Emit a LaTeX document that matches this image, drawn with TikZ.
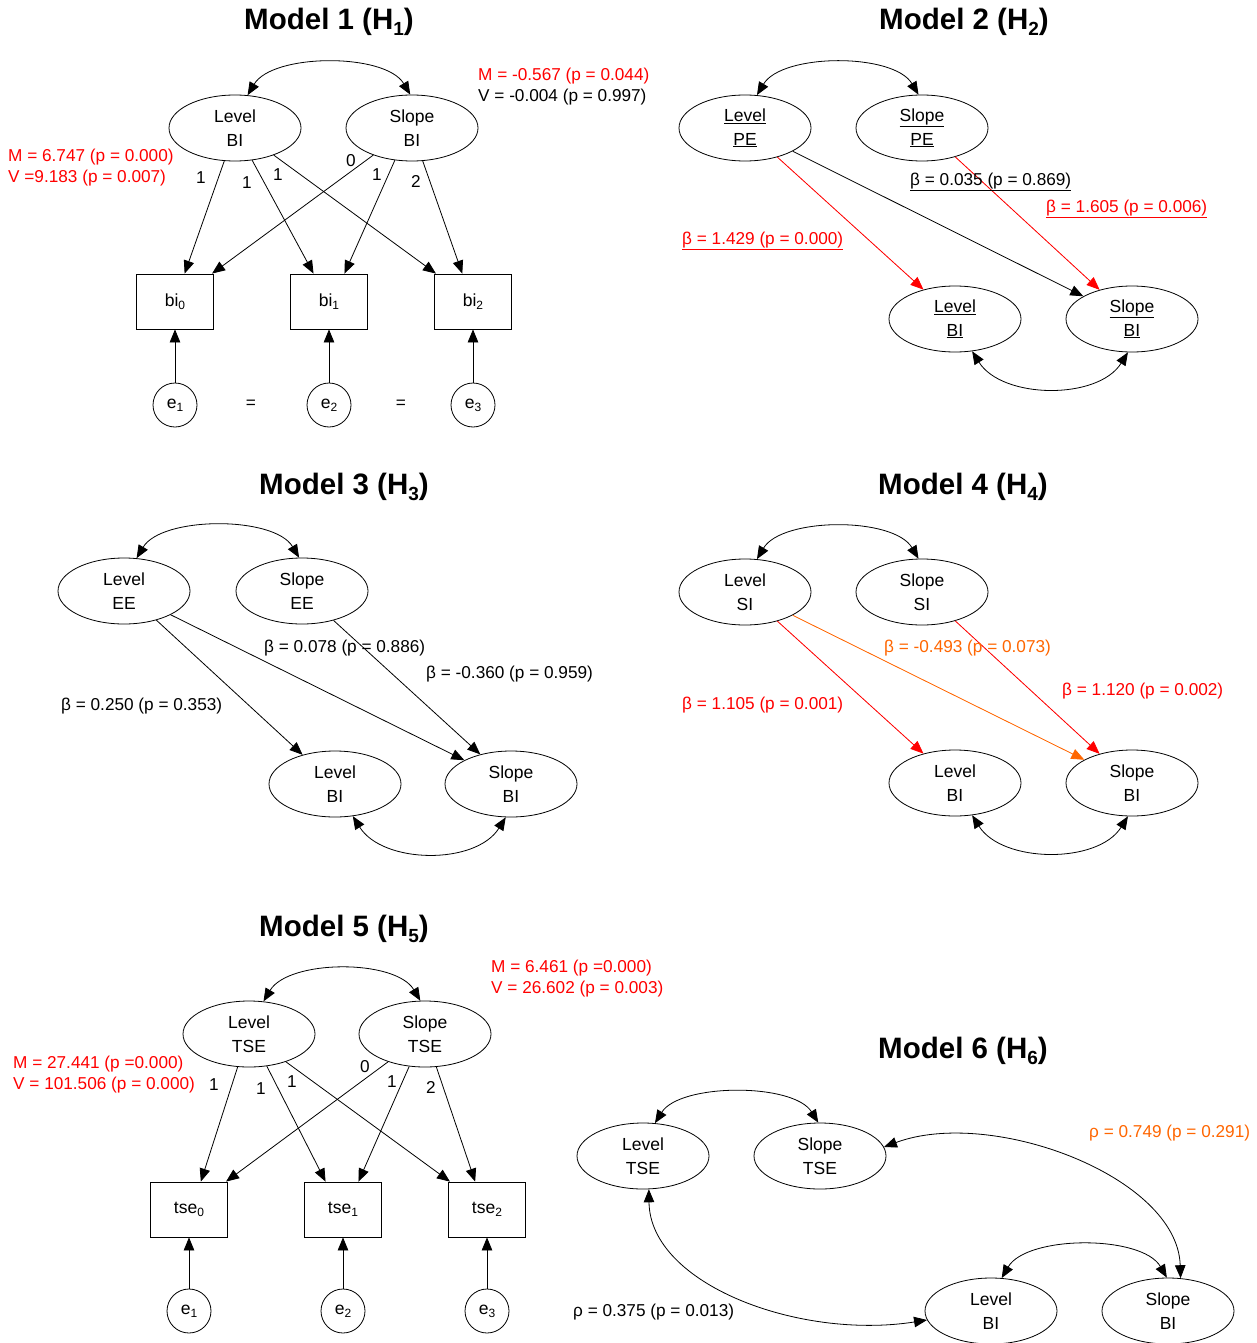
\documentclass[tikz,border=0pt]{standalone}
\usepackage{fontspec}
\setmainfont{Liberation Sans}
\usetikzlibrary{arrows.meta,shapes.geometric}
\definecolor{mred}{RGB}{255,0,0}
\definecolor{morange}{RGB}{255,102,0}
\newcommand\sbx[1]{\raisebox{-0.35ex}{\fontsize{12}{12}\selectfont #1}}
\newcommand\tsbx[1]{\raisebox{-0.35ex}{\fontsize{19}{19}\selectfont #1}}
\begin{document}
\begin{tikzpicture}[x=1pt,y=-1pt,
 lat/.style={ellipse,draw,line width=0.8pt,minimum width=132pt,minimum height=66pt,inner sep=0pt,align=center,font=\fontsize{17.5}{23.5}\selectfont},
 obs/.style={rectangle,draw,line width=0.8pt,minimum width=77pt,minimum height=55pt,inner sep=0pt,font=\fontsize{17.5}{20}\selectfont},
 err/.style={circle,draw,line width=0.8pt,minimum size=44pt,inner sep=0pt,font=\fontsize{17.5}{20}\selectfont},
 lbl/.style={inner sep=0pt,font=\fontsize{17.2}{20}\selectfont},
 ttl/.style={inner sep=0pt,font=\fontsize{29.5}{33}\selectfont\bfseries},
 arr/.style={-{Triangle[length=13pt,width=10.5pt]},line width=0.8pt},
 dbl/.style={{Triangle[length=13pt,width=10.5pt]}-{Triangle[length=13pt,width=10.5pt]},line width=0.8pt},
]
\useasboundingbox (0,0) rectangle (1256,1343);
\fill[white] (0,0) rectangle (1256,1343);

% ---------------- Model 1 ----------------
\node[ttl] (t1) at (329,22) {Model 1 (H\tsbx{1})};
\node[lat] (m1L) at (235,128) {Level\\BI};
\node[lat] (m1S) at (412,128) {Slope\\BI};
\node[obs] (m1b0) at (175,301.5) {bi\sbx{0}};
\node[obs] (m1b1) at (329,301.5) {bi\sbx{1}};
\node[obs] (m1b2) at (473,301.5) {bi\sbx{2}};
\node[err] (m1e1) at (175,405) {e\sbx{1}};
\node[err] (m1e2) at (329,405) {e\sbx{2}};
\node[err] (m1e3) at (473,405) {e\sbx{3}};
\node[lbl] (m1q1) at (251,404) {=};
\node[lbl] (m1q2) at (401,404) {=};
\draw[dbl] (m1L.69) .. controls +(25,-42) and +(-25,-42) .. (m1S.93);
\draw[arr] (m1L.252) -- (m1b0.71);
\draw[arr] (m1L.298) -- (m1b1.119);
\draw[arr] (m1L.325) -- (m1b2.143);
\draw[arr] (m1S.215) -- (m1b0.37);
\draw[arr] (m1S.242) -- (m1b1.61);
\draw[arr] (m1S.288) -- (m1b2.111);
\draw[arr] (m1e1) -- (m1b0);
\draw[arr] (m1e2) -- (m1b1);
\draw[arr] (m1e3) -- (m1b2);
\node[lbl] (m1n1) at (201,178) {1};
\node[lbl] (m1n2) at (247,183) {1};
\node[lbl] (m1n3) at (278,175) {1};
\node[lbl] (m1n4) at (351,161) {0};
\node[lbl] (m1n5) at (377,175) {1};
\node[lbl] (m1n6) at (416,181) {2};
\node[lbl,anchor=west,text=mred] (m1m) at (8,157) {M = 6.747 (p = 0.000)};
\node[lbl,anchor=west,text=mred] (m1v) at (8,178) {V =9.183 (p = 0.007)};
\node[lbl,anchor=west,text=mred] (m1m2) at (478,76) {M = -0.567 (p = 0.044)};
\node[lbl,anchor=west] (m1v2) at (478,97) {V = -0.004 (p = 0.997)};

% ---------------- Model 2 ----------------
\node[ttl] (t2) at (964,22) {Model 2 (H\tsbx{2})};
\node[lat] (m2LP) at (745,128) {\underline{Level}\\\underline{PE}};
\node[lat] (m2SP) at (922,128) {\underline{Slope}\\\underline{PE}};
\node[lat] (m2LB) at (955,319) {\underline{Level}\\\underline{BI}};
\node[lat] (m2SB) at (1132,319) {\underline{Slope}\\\underline{BI}};
\draw[dbl] (m2LP.70) .. controls +(25,-42) and +(-25,-42) .. (m2SP.96);
\draw[dbl] (m2LB.298) .. controls +(30,48) and +(-30,48) .. (m2SB.263);
\draw[arr,draw=mred,fill=mred] (m2LP.318) -- (m2LB.137);
\draw[arr] (m2LP.334) -- (m2SB.155);
\draw[arr,draw=mred,fill=mred] (m2SP.319) -- (m2SB.138);
\node[lbl,anchor=west] (m2a) at (910,182) {\underline{β = 0.035 (p = 0.869)}};
\node[lbl,anchor=west,text=mred] (m2b) at (1046,209) {\underline{β = 1.605 (p = 0.006)}};
\node[lbl,anchor=west,text=mred] (m2c) at (682,241) {\underline{β = 1.429 (p = 0.000)}};

% ---------------- Model 3 ----------------
\node[ttl] (t3) at (344,487) {Model 3 (H\tsbx{3})};
\node[lat] (m3LE) at (124,591) {Level\\EE};
\node[lat] (m3SE) at (302,591) {Slope\\EE};
\node[lat] (m3LB) at (335,784) {Level\\BI};
\node[lat] (m3SB) at (511,784) {Slope\\BI};
\draw[dbl] (m3LE.69) .. controls +(25,-42) and +(-25,-42) .. (m3SE.95);
\draw[dbl] (m3LB.299) .. controls +(30,48) and +(-30,48) .. (m3SB.261);
\draw[arr] (m3LE.318) -- (m3LB.138);
\draw[arr] (m3LE.333) -- (m3SB.153);
\draw[arr] (m3SE.317) -- (m3SB.136);
\node[lbl,anchor=west] (m3a) at (264,648) {β = 0.078 (p = 0.886)};
\node[lbl,anchor=west] (m3b) at (426,674) {β = -0.360 (p = 0.959)};
\node[lbl,anchor=west] (m3c) at (61,706) {β = 0.250 (p = 0.353)};

% ---------------- Model 4 ----------------
\node[ttl] (t4) at (963,487) {Model 4 (H\tsbx{4})};
\node[lat] (m4LS) at (745,592) {Level\\SI};
\node[lat] (m4SS) at (922,592) {Slope\\SI};
\node[lat] (m4LB) at (955,783) {Level\\BI};
\node[lat] (m4SB) at (1132,783) {Slope\\BI};
\draw[dbl] (m4LS.70) .. controls +(25,-42) and +(-25,-42) .. (m4SS.96);
\draw[dbl] (m4LB.298) .. controls +(30,48) and +(-30,48) .. (m4SB.263);
\draw[arr,draw=mred,fill=mred] (m4LS.318) -- (m4LB.137);
\draw[arr,draw=morange,fill=morange] (m4LS.334) -- (m4SB.154);
\draw[arr,draw=mred,fill=mred] (m4SS.319) -- (m4SB.138);
\node[lbl,anchor=west,text=morange] (m4a) at (884,648) {β = -0.493 (p = 0.073)};
\node[lbl,anchor=west,text=mred] (m4b) at (1062,691) {β = 1.120 (p = 0.002)};
\node[lbl,anchor=west,text=mred] (m4c) at (682,705) {β = 1.105 (p = 0.001)};

% ---------------- Model 5 ----------------
\node[ttl] (t5) at (344,929) {Model 5 (H\tsbx{5})};
\node[lat] (m5L) at (249,1034) {Level\\TSE};
\node[lat] (m5S) at (425,1034) {Slope\\TSE};
\node[obs] (m5b0) at (189,1209.5) {tse\sbx{0}};
\node[obs] (m5b1) at (343,1209.5) {tse\sbx{1}};
\node[obs] (m5b2) at (487,1209.5) {tse\sbx{2}};
\node[err] (m5e1) at (189,1311) {e\sbx{1}};
\node[err] (m5e2) at (343,1311) {e\sbx{2}};
\node[err] (m5e3) at (487,1311) {e\sbx{3}};
\draw[dbl] (m5L.66) .. controls +(25,-42) and +(-25,-42) .. (m5S.98);
\draw[arr] (m5L.251) -- (m5b0.67);
\draw[arr] (m5L.299) -- (m5b1.122);
\draw[arr] (m5L.323) -- (m5b2.143);
\draw[arr] (m5S.217) -- (m5b0.37);
\draw[arr] (m5S.244) -- (m5b1.61);
\draw[arr] (m5S.289) -- (m5b2.113);
\draw[arr] (m5e1) -- (m5b0);
\draw[arr] (m5e2) -- (m5b1);
\draw[arr] (m5e3) -- (m5b2);
\node[lbl] (m5n1) at (214,1085) {1};
\node[lbl] (m5n2) at (261,1089) {1};
\node[lbl] (m5n3) at (292,1082) {1};
\node[lbl] (m5n4) at (365,1067) {0};
\node[lbl] (m5n5) at (392,1082) {1};
\node[lbl] (m5n6) at (431,1087) {2};
\node[lbl,anchor=west,text=mred] (m5m) at (13,1064) {M = 27.441 (p =0.000)};
\node[lbl,anchor=west,text=mred] (m5v) at (13,1085) {V = 101.506 (p = 0.000)};
\node[lbl,anchor=west,text=mred] (m5m2) at (491,968) {M = 6.461 (p =0.000)};
\node[lbl,anchor=west,text=mred] (m5v2) at (491,989) {V = 26.602 (p = 0.003)};

% ---------------- Model 6 ----------------
\node[ttl] (t6) at (963,1051) {Model 6 (H\tsbx{6})};
\node[lat] (m6LT) at (643,1156) {Level\\TSE};
\node[lat] (m6ST) at (820,1156) {Slope\\TSE};
\node[lat] (m6LB) at (991,1311) {Level\\BI};
\node[lat] (m6SB) at (1168,1311) {Slope\\BI};
\draw[dbl] (m6LT.70) .. controls +(25,-40) and +(-25,-40) .. (m6ST.93);
\draw[dbl] (m6LB.72) .. controls +(25,-43) and +(-25,-43) .. (m6SB.92);
\draw[dbl] (m6ST.8) .. controls +(107,-40) and +(-3,-102) .. (m6SB.69);
\draw[dbl] (m6LT.280) .. controls +(1,95) and +(-128,20) .. (m6LB.188);
\node[lbl,anchor=west,text=morange] (m6a) at (1089,1133) {ρ = 0.749 (p = 0.291)};
\node[lbl,anchor=west] (m6b) at (573,1312) {ρ = 0.375 (p = 0.013)};
\end{tikzpicture}
\end{document}
